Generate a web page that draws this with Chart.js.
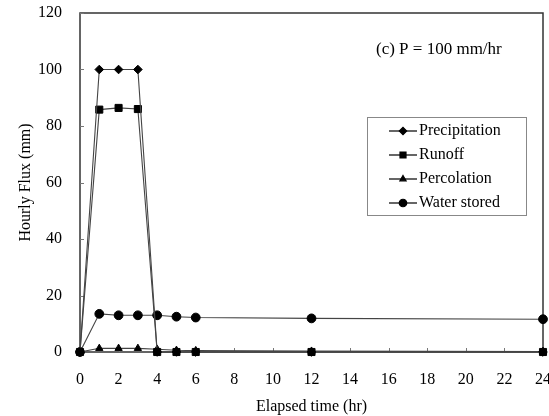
<!DOCTYPE html>
<html><head><meta charset="utf-8">
<script src="https://cdn.jsdelivr.net/npm/chart.js@4/dist/chart.umd.min.js"></script>
<style>html,body{margin:0;padding:0;background:#fff}#wrap{width:549px;height:416px}</style>
</head><body><div id="wrap"><canvas id="c" width="549" height="416"></canvas></div>
<script>
const hours = [0, 1, 2, 3, 4, 5, 6, 12, 24];
const precipitation = [0, 100, 100, 100, 0, 0, 0, 0, 0];
const runoff = [0, 85.8, 86.4, 86.0, 0, 0, 0, 0, 0];
const percolation = [0, 1.3, 1.3, 1.3, 1.0, 0.6, 0.5, 0.3, 0.2];
const waterStored = [0, 13.5, 13.0, 13.0, 13.0, 12.5, 12.2, 11.9, 11.6];
const seriesNames = ['Precipitation', 'Runoff', 'Percolation', 'Water stored'];
const seriesMarkers = ['rectRot', 'rect', 'triangle', 'circle'];
const markerSizes = [4.3, 5, 4.2, 4.4];
const xTicks = [0,2,4,6,8,10,12,14,16,18,20,22,24];
const yTicks = [0,20,40,60,80,100,120];
const annotation = '(c) P = 100 mm/hr';

const FONT = "'Liberation Serif', 'DejaVu Serif', serif";
const allSeries = [precipitation, runoff, percolation, waterStored];
const datasets = allSeries.map((s, i) => ({
  label: seriesNames[i],
  data: hours.map((h, j) => ({x: h, y: s[j]})),
  borderColor: '#444',
  borderWidth: 1.1,
  pointStyle: seriesMarkers[i],
  pointRadius: markerSizes[i],
  pointBackgroundColor: '#000',
  pointBorderColor: '#000',
  pointBorderWidth: 1,
  tension: 0,
  clip: false
}));

const decor = {
  id: 'decor',
  beforeDatasetsDraw(chart) {
    const ctx = chart.ctx, a = chart.chartArea;
    const xs = chart.scales.x, ys = chart.scales.y;
    ctx.save();
    ctx.strokeStyle = '#333'; ctx.lineWidth = 1.5;
    ctx.strokeRect(a.left, a.top, a.right - a.left, a.bottom - a.top);
    ctx.lineWidth = 1; ctx.strokeStyle = '#777';
    yTicks.forEach(v => { const y = Math.round(ys.getPixelForValue(v)) + 0.5;
      ctx.beginPath(); ctx.moveTo(a.left, y); ctx.lineTo(a.left + 4, y); ctx.stroke(); });
    xTicks.forEach(v => { const x = Math.round(xs.getPixelForValue(v)) + 0.5;
      ctx.beginPath(); ctx.moveTo(x, a.bottom); ctx.lineTo(x, a.bottom - 4); ctx.stroke(); });
    ctx.restore();
  },
  afterDraw(chart) {
    const ctx = chart.ctx;
    ctx.save();
    ctx.fillStyle = '#000'; ctx.font = '17px ' + FONT; ctx.textBaseline = 'middle'; ctx.textAlign = 'left';
    ctx.fillText(annotation, 376, 50);
    const lx = 367, ly = 117, lw = 159, lh = 98;
    ctx.fillStyle = '#fff'; ctx.fillRect(lx, ly, lw, lh);
    ctx.strokeStyle = '#888'; ctx.lineWidth = 1; ctx.strokeRect(lx + 0.5, ly + 0.5, lw, lh);
    ctx.font = '16px ' + FONT;
    seriesNames.forEach((n, i) => {
      const y = ly + 14 + i * 24;
      ctx.strokeStyle = '#000'; ctx.lineWidth = 1.2;
      ctx.beginPath(); ctx.moveTo(lx + 22, y); ctx.lineTo(lx + 50, y); ctx.stroke();
      ctx.fillStyle = '#000';
      Chart.helpers.drawPoint(ctx, {pointStyle: seriesMarkers[i], radius: markerSizes[i] * 0.85, borderWidth: 1}, lx + 36, y);
      ctx.fillStyle = '#000';
      ctx.fillText(n, lx + 52, y);
    });
    ctx.restore();
  }
};

new Chart(document.getElementById('c'), {
  type: 'line',
  data: { datasets },
  options: {
    responsive: false, animation: false,
    layout: { autoPadding: false, padding: { top: 13, right: 6, left: 0, bottom: 0 } },
    plugins: { legend: { display: false }, tooltip: { enabled: false } },
    scales: {
      x: {
        type: 'linear', min: 0, max: 24,
        afterBuildTicks: s => { s.ticks = xTicks.map(v => ({value: v})); },
        grid: { display: false, drawTicks: false },
        border: { display: false },
        ticks: { color: '#000', font: { family: FONT, size: 16 }, padding: 18, maxRotation: 0, autoSkip: false },
        title: { display: true, text: 'Elapsed time (hr)', color: '#000', font: { family: FONT, size: 16 }, padding: { top: 4, bottom: 0 } },
        afterFit: s => { s.height = 64; s.paddingLeft = 0; s.paddingRight = 0; }
      },
      y: {
        min: 0, max: 120,
        afterBuildTicks: s => { s.ticks = yTicks.map(v => ({value: v})); },
        grid: { display: false, drawTicks: false },
        border: { display: false },
        ticks: { color: '#000', font: { family: FONT, size: 16 }, padding: 18 },
        title: { display: true, text: 'Hourly Flux (mm)', color: '#000', font: { family: FONT, size: 16 }, padding: { top: 16, bottom: 0 } },
        afterFit: s => { s.width = 80; s.paddingTop = 0; s.paddingBottom = 0; }
      }
    }
  },
  plugins: [decor]
});
</script></body></html>
